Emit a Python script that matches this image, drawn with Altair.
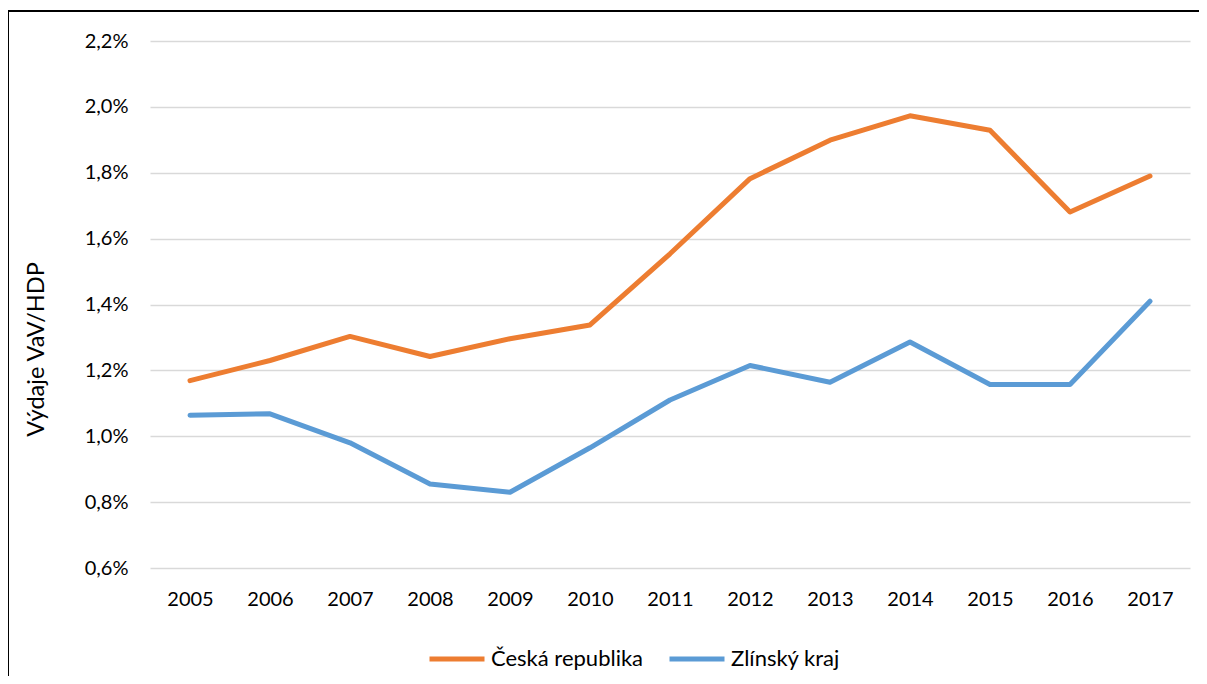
import altair as alt
import pandas as pd

years = [str(y) for y in range(2005, 2018)]
ceska_republika = [1.169, 1.23, 1.303, 1.242, 1.296, 1.338, 1.554, 1.782, 1.899, 1.973, 1.929, 1.681, 1.79]
zlinsky_kraj = [1.064, 1.068, 0.98, 0.855, 0.830, 0.965, 1.11, 1.215, 1.164, 1.286, 1.157, 1.157, 1.41]
series_names = ["Česká republika", "Zlínský kraj"]
series_colors = ["#ED7D31", "#5B9BD5"]
y_ticks = [0.6, 0.8, 1.0, 1.2, 1.4, 1.6, 1.8, 2.0, 2.2]

rows = []
for name, vals in zip(series_names, [ceska_republika, zlinsky_kraj]):
    for y, v in zip(years, vals):
        rows.append({"rok": y, "hodnota": v, "rada": name})
df = pd.DataFrame(rows)

FONT = "Lato"
W, H = 1040, 527
PAD = {"left": 142, "top": 33, "right": 9, "bottom": 108}

lines = alt.Chart(df).mark_line(
    strokeWidth=5, strokeCap="round", strokeJoin="round"
).encode(
    x=alt.X("rok:O", scale=alt.Scale(type="point", padding=0.5),
            axis=alt.Axis(title=None, labelAngle=0, domain=False, ticks=False,
                          labelPadding=21, labelFontSize=20, labelFont=FONT,
                          labelColor="#000000", grid=False)),
    y=alt.Y("hodnota:Q", scale=alt.Scale(domain=[0.6, 2.2], nice=False, zero=False),
            axis=alt.Axis(title="Výdaje VaV/HDP", values=y_ticks, domain=False, ticks=False,
                          labelPadding=22, labelFontSize=20, labelFont=FONT, labelColor="#000000",
                          labelExpr="replace(format(datum.value, '.1f'), '.', ',') + '%'",
                          gridColor="#D9D9D9", gridWidth=1.4,
                          titleFont=FONT, titleFontSize=23.5, titleFontWeight="normal",
                          titleColor="#000000", titleAngle=270, titleAlign="center",
                          titleBaseline="middle", titleX=-114, titleY=308)),
    color=alt.Color("rada:N", scale=alt.Scale(domain=series_names, range=series_colors),
                    sort=series_names,
                    legend=alt.Legend(title=None, orient="none", direction="horizontal",
                                      legendX=277, legendY=588, symbolType="stroke",
                                      symbolSize=3025, symbolStrokeWidth=5,
                                      labelFont=FONT, labelFontSize=22, labelColor="#000000",
                                      labelOffset=4, columnPadding=15, padding=0)),
    order=alt.Order("rok:O"),
)

border_data = alt.Data(values=[{"a": 1}])
left_border = alt.Chart(border_data).mark_rule(color="#000000", strokeWidth=2).encode(
    x=alt.value(-142), y=alt.value(-30), y2=alt.value(H + PAD["bottom"])
)
top_border = alt.Chart(border_data).mark_rule(color="#000000", strokeWidth=2).encode(
    x=alt.value(-142), x2=alt.value(W + PAD["right"]), y=alt.value(-30)
)

chart = alt.layer(lines, left_border, top_border).properties(
    width=W, height=H, padding=PAD, autosize=alt.AutoSizeParams(type="none"),
    background="#FFFFFF"
).configure_view(stroke=None)

chart.save("out.html", embed_options={"renderer": "svg", "actions": False})
